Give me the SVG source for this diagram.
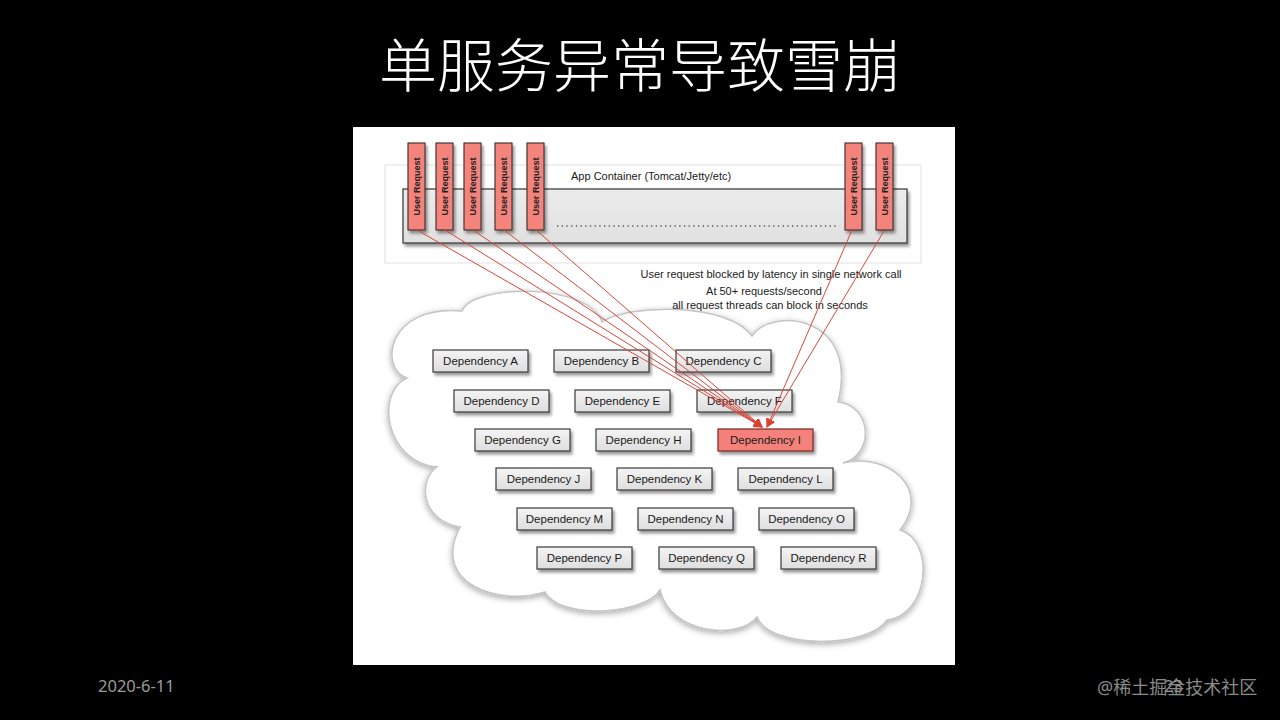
<svg xmlns="http://www.w3.org/2000/svg" width="1280" height="720" viewBox="0 0 1280 720">
<defs>
<filter id="sh" x="-20%" y="-20%" width="150%" height="160%"><feDropShadow dx="2" dy="3" stdDeviation="1.6" flood-color="#000" flood-opacity="0.4"/></filter>
<filter id="csh" x="-10%" y="-10%" width="120%" height="120%"><feDropShadow dx="0" dy="2" stdDeviation="3" flood-color="#000" flood-opacity="0.35"/></filter>
<linearGradient id="gdep" x1="0" y1="0" x2="0" y2="1"><stop offset="0" stop-color="#f4f4f4"/><stop offset="1" stop-color="#dedede"/></linearGradient>
<linearGradient id="gcont" x1="0" y1="0" x2="0" y2="1"><stop offset="0" stop-color="#ececec"/><stop offset="1" stop-color="#e0e0e0"/></linearGradient>
<marker id="ah" viewBox="0 0 10 10" refX="9" refY="5" markerWidth="9" markerHeight="9" markerUnits="userSpaceOnUse" orient="auto"><path d="M0,0 L10,5 L0,10 Z" fill="#e0402f"/></marker>
<style>
.dep rect{fill:url(#gdep);stroke:#3a3a3a;stroke-width:1.2;filter:url(#sh)}
.dep text,.lbl{font-family:"Liberation Sans",Arial,sans-serif;font-size:11px;fill:#1a1a1a}
.dep text{text-anchor:middle;font-size:11.5px}
.hot rect{fill:#f4827a;stroke:#7a2a22}
.ur rect{fill:#f4837c;stroke:#3a2a2a;stroke-width:1.1;filter:url(#sh)}
.ur text{font-family:"Liberation Sans",Arial,sans-serif;font-size:9px;font-weight:bold;fill:#222;text-anchor:middle}
.conn line{stroke:#d8473a;stroke-width:1;marker-end:url(#ah)}
</style>
</defs>
<rect width="1280" height="720" fill="#000"/>
<text x="640" y="87" text-anchor="middle" font-family="'Noto Sans CJK SC',sans-serif" font-size="58" font-weight="300" fill="#fff">单服务异常导致雪崩</text>
<rect x="353" y="127" width="602" height="538" fill="#fff"/>
<g id="cloud">
<path d="M407,378 C378,368 388,304 462,311 C472,284 588,282 602,322 C628,304 728,302 752,336 C770,307 860,314 838,402 C872,405 875,455 843,463 C890,452 932,490 900,530 C935,540 930,615 887,620 C870,648 770,650 757,617 C740,640 670,635 660,590 C645,615 560,620 545,592 C500,606 430,585 460,527 C420,520 418,480 437,467 C385,462 375,392 407,378 Z" fill="#fff" stroke="#c4c4c4" stroke-width="1.5" filter="url(#csh)"/>
</g>
<g id="app-container">
<rect x="385" y="165" width="536" height="98" fill="#fff" stroke="#e2e2e2" stroke-width="1"/>
<rect x="403" y="189" width="504" height="54" fill="url(#gcont)" stroke="#333" stroke-width="1.2" filter="url(#sh)"/>
<text class="lbl" x="571" y="180">App Container (Tomcat/Jetty/etc)</text>
<line x1="557" y1="226" x2="836" y2="226" stroke="#555" stroke-width="1.3" stroke-dasharray="1.3 3.4"/>
</g>
<g id="requests" class="ur">
<g id="ur1"><rect x="408" y="143" width="17" height="87"/><text transform="translate(419.5,186.5) rotate(-90)">User Request</text></g>
<g id="ur2"><rect x="436" y="143" width="17" height="87"/><text transform="translate(447.5,186.5) rotate(-90)">User Request</text></g>
<g id="ur3"><rect x="464" y="143" width="17" height="87"/><text transform="translate(475.5,186.5) rotate(-90)">User Request</text></g>
<g id="ur4"><rect x="495" y="143" width="17" height="87"/><text transform="translate(506.5,186.5) rotate(-90)">User Request</text></g>
<g id="ur5"><rect x="527" y="143" width="17" height="87"/><text transform="translate(538.5,186.5) rotate(-90)">User Request</text></g>
<g id="ur6"><rect x="845" y="143" width="17" height="87"/><text transform="translate(856.5,186.5) rotate(-90)">User Request</text></g>
<g id="ur7"><rect x="876" y="143" width="17" height="87"/><text transform="translate(887.5,186.5) rotate(-90)">User Request</text></g>
</g>
<g id="notes">
<text class="lbl" x="771" y="278" text-anchor="middle">User request blocked by latency in single network call</text>
<text class="lbl" x="764" y="295" text-anchor="middle">At 50+ requests/second</text>
<text class="lbl" x="770" y="309" text-anchor="middle">all request threads can block in seconds</text>
</g>
<g id="dependencies">
<g id="depA" class="dep"><rect x="433" y="350" width="95" height="22"/><text x="480.5" y="365">Dependency A</text></g>
<g id="depB" class="dep"><rect x="554" y="350" width="95" height="22"/><text x="601.5" y="365">Dependency B</text></g>
<g id="depC" class="dep"><rect x="676" y="350" width="95" height="22"/><text x="723.5" y="365">Dependency C</text></g>
<g id="depD" class="dep"><rect x="454" y="390" width="95" height="22"/><text x="501.5" y="405">Dependency D</text></g>
<g id="depE" class="dep"><rect x="575" y="390" width="95" height="22"/><text x="622.5" y="405">Dependency E</text></g>
<g id="depF" class="dep"><rect x="697" y="390" width="95" height="22"/><text x="744.5" y="405">Dependency F</text></g>
<g id="depG" class="dep"><rect x="475" y="429" width="95" height="22"/><text x="522.5" y="444">Dependency G</text></g>
<g id="depH" class="dep"><rect x="596" y="429" width="95" height="22"/><text x="643.5" y="444">Dependency H</text></g>
<g id="depI" class="dep hot"><rect x="718" y="429" width="95" height="22"/><text x="765.5" y="444">Dependency I</text></g>
<g id="depJ" class="dep"><rect x="496" y="468" width="95" height="22"/><text x="543.5" y="483">Dependency J</text></g>
<g id="depK" class="dep"><rect x="617" y="468" width="95" height="22"/><text x="664.5" y="483">Dependency K</text></g>
<g id="depL" class="dep"><rect x="738" y="468" width="95" height="22"/><text x="785.5" y="483">Dependency L</text></g>
<g id="depM" class="dep"><rect x="517" y="508" width="95" height="22"/><text x="564.5" y="523">Dependency M</text></g>
<g id="depN" class="dep"><rect x="638" y="508" width="95" height="22"/><text x="685.5" y="523">Dependency N</text></g>
<g id="depO" class="dep"><rect x="759" y="508" width="95" height="22"/><text x="806.5" y="523">Dependency O</text></g>
<g id="depP" class="dep"><rect x="537" y="547" width="95" height="22"/><text x="584.5" y="562">Dependency P</text></g>
<g id="depQ" class="dep"><rect x="659" y="547" width="95" height="22"/><text x="706.5" y="562">Dependency Q</text></g>
<g id="depR" class="dep"><rect x="781" y="547" width="95" height="22"/><text x="828.5" y="562">Dependency R</text></g>
</g>
<g id="connectors" class="conn">
<line x1="417" y1="230" x2="762" y2="427"/>
<line x1="445" y1="230" x2="762" y2="427"/>
<line x1="473" y1="230" x2="762" y2="427"/>
<line x1="504" y1="230" x2="762" y2="427"/>
<line x1="536" y1="230" x2="762" y2="427"/>
<line x1="852" y1="230" x2="767" y2="427"/>
<line x1="884" y1="231" x2="767" y2="427"/>
</g>
<g id="footer" font-family="'Noto Sans','Noto Sans CJK SC',sans-serif" fill="#9a9a9a">
<text x="98" y="692" font-size="16.5">2020-6-11</text>
<text x="1164" y="692" font-size="16.5">23</text>
<text x="1097" y="694" fill="#8a8a8a" font-size="18">@稀土掘金技术社区</text>
</g>
</svg>
